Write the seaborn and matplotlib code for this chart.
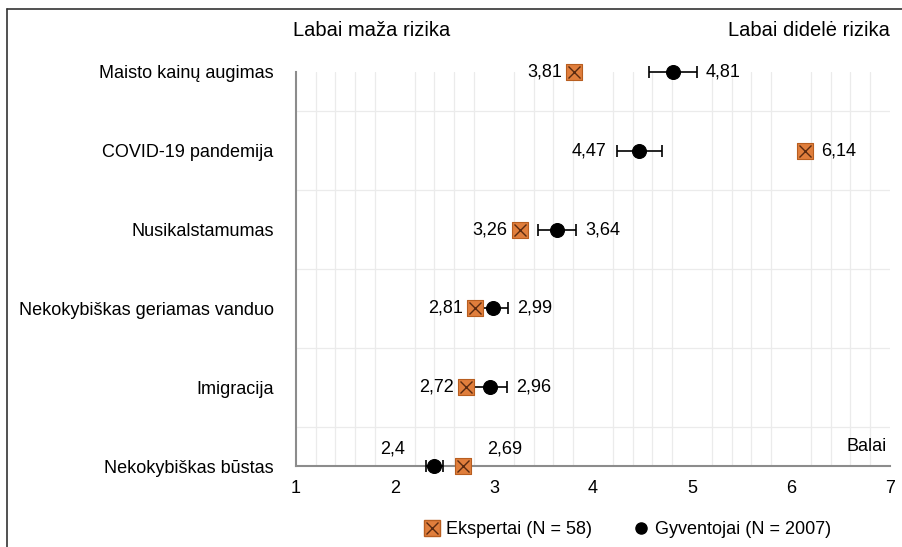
import numpy as np
import pandas as pd
import matplotlib
matplotlib.use("Agg")
import matplotlib.pyplot as plt
from matplotlib.lines import Line2D
from matplotlib.legend_handler import HandlerTuple
import seaborn as sns

# Duomenys
categories = ["Maisto kainų augimas", "COVID-19 pandemija", "Nusikalstamumas",
              "Nekokybiškas geriamas vanduo", "Imigracija", "Nekokybiškas būstas"]
ekspertai = [3.81, 6.14, 3.26, 2.81, 2.72, 2.69]
gyventojai = [4.81, 4.47, 3.64, 2.99, 2.96, 2.4]
gyv_err = [0.24, 0.23, 0.19, 0.15, 0.17, 0.09]
eks_side = ["left", "right", "left", "left", "left", "upright"]
gyv_side = ["right", "left", "right", "right", "right", "upleft"]

ypos = list(range(len(categories) - 1, -1, -1))
df = pd.DataFrame({"kategorija": categories, "y": ypos,
                   "ekspertai": ekspertai, "gyventojai": gyventojai, "err": gyv_err})

sns.set_style("white")
plt.rcParams["font.family"] = ["Liberation Sans", "DejaVu Sans"]
plt.rcParams["text.color"] = "black"
plt.rcParams["xtick.color"] = "black"
plt.rcParams["ytick.color"] = "black"

fig = plt.figure(figsize=(9.02, 5.47), dpi=100)
ax = fig.add_axes([0.328, 0.148, 0.6587, 0.7204])

orange = "#E07E3C"
edge = "#B85E20"

ax.errorbar(df["gyventojai"], df["y"], xerr=df["err"], fmt="none", ecolor="black",
            elinewidth=1.2, capsize=4, capthick=1.2, zorder=3, clip_on=False)
sns.scatterplot(data=df, x="ekspertai", y="y", marker="s", s=130, color=orange,
                edgecolor=edge, linewidth=0.8, ax=ax, zorder=4, clip_on=False, legend=False)
sns.scatterplot(data=df, x="ekspertai", y="y", marker="x", s=75, color="#5a2a10",
                linewidth=1.0, ax=ax, zorder=5, clip_on=False, legend=False)
sns.scatterplot(data=df, x="gyventojai", y="y", marker="o", s=100, color="black",
                edgecolor="black", ax=ax, zorder=6, clip_on=False, legend=False)

def fmt(v):
    return str(v).replace(".", ",")

for i, r in df.iterrows():
    s = eks_side[i]
    x, y = r["ekspertai"], r["y"]
    if s == "left":
        ax.annotate(fmt(x), (x, y), xytext=(-12, 0), textcoords="offset pixels",
                    ha="right", va="center", fontsize=13)
    elif s == "right":
        ax.annotate(fmt(x), (x, y), xytext=(16, 0), textcoords="offset pixels",
                    ha="left", va="center", fontsize=13)
    else:
        ax.annotate(fmt(x), (x, y), xytext=(41, 17), textcoords="offset pixels",
                    ha="center", va="center", fontsize=13)
    s = gyv_side[i]
    x, e = r["gyventojai"], r["err"]
    if s == "right":
        ax.annotate(fmt(x), (x + e, y), xytext=(9, 0), textcoords="offset pixels",
                    ha="left", va="center", fontsize=13)
    elif s == "left":
        ax.annotate(fmt(x), (x - e, y), xytext=(-10, 0), textcoords="offset pixels",
                    ha="right", va="center", fontsize=13)
    else:
        ax.annotate(fmt(x), (x, y), xytext=(-42, 17), textcoords="offset pixels",
                    ha="center", va="center", fontsize=13)

ax.set_xlim(1, 7)
ax.set_ylim(0, 5)
ax.set_xticks(range(1, 8))
ax.set_xticks(np.arange(1, 7.01, 0.2), minor=True)
ax.set_yticks(ypos)
ax.set_yticklabels(categories)
ax.set_yticks(np.arange(0, 5.01, 0.5), minor=True)
ax.grid(which="minor", axis="x", color="#ebebeb", linewidth=0.9)
ax.grid(which="minor", axis="y", color="#ebebeb", linewidth=0.9)
ax.set_axisbelow(True)
ax.set_xlabel("")
ax.set_ylabel("")

for sp in ["top", "right"]:
    ax.spines[sp].set_visible(False)
for sp in ["left", "bottom"]:
    ax.spines[sp].set_color("#8c8c8c")
    ax.spines[sp].set_linewidth(1.5)

ax.tick_params(axis="x", which="major", direction="out", length=4, color="#8c8c8c",
               labelsize=13, pad=6)
ax.tick_params(axis="x", which="minor", length=0)
ax.tick_params(axis="y", which="major", length=0, labelsize=13, pad=16)
ax.tick_params(axis="y", which="minor", direction="out", length=4, color="#8c8c8c")

ax.text(-0.005, 1.105, "Labai maža rizika", transform=ax.transAxes, ha="left", va="center",
        fontsize=14.5)
ax.text(1, 1.105, "Labai didelė rizika", transform=ax.transAxes, ha="right", va="center",
        fontsize=14.5)
ax.text(0.995, 0.05, "Balai", transform=ax.transAxes, ha="right", va="center", fontsize=13)

h_eks = (Line2D([], [], marker="s", color=orange, markeredgecolor=edge, markersize=11,
                linestyle="none"),
         Line2D([], [], marker="x", color="#5a2a10", markersize=8, linestyle="none"))
h_gyv = Line2D([], [], marker="o", color="black", markersize=8, linestyle="none")
fig.legend([h_eks, h_gyv], ["Ekspertai (N = 58)", "Gyventojai (N = 2007)"],
           handler_map={tuple: HandlerTuple(ndivide=1)}, loc="center",
           bbox_to_anchor=(0.695, 0.032), ncol=2, frameon=False, fontsize=13,
           handletextpad=0.3, columnspacing=2.2, handlelength=1.0)

# rėmelis
fig.add_artist(Line2D([0.008, 1.0], [0.984, 0.984], color="#333333", linewidth=1.2))
fig.add_artist(Line2D([0.008, 0.008], [0.0, 0.984], color="#333333", linewidth=1.2))

fig.savefig("out.png", dpi=100)
